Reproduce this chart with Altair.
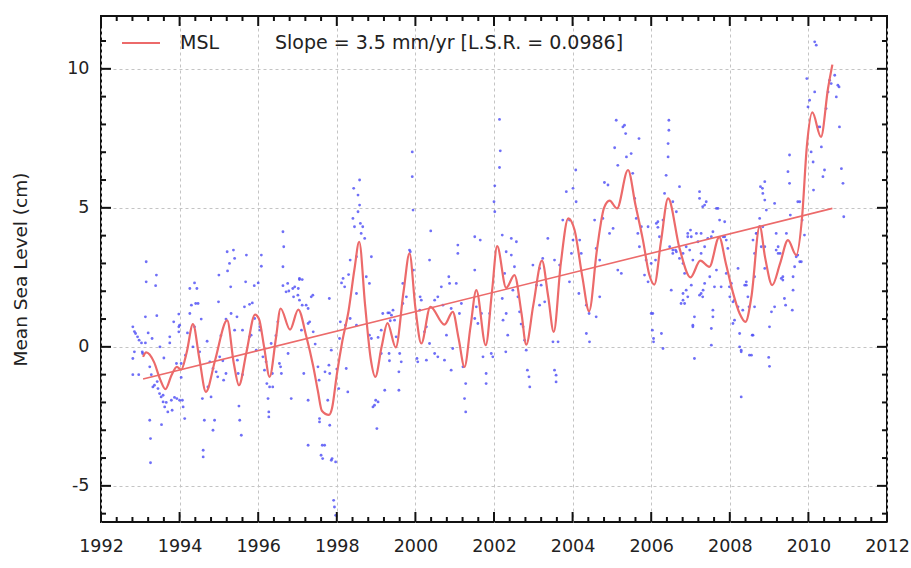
import altair as alt
import pandas as pd

# ---------------- data ----------------
# smoothed MSL curve (year, cm)
msl_years = [1993.07, 1993.15, 1993.35, 1993.50, 1993.64, 1993.80, 1993.93, 1994.04, 1994.18, 1994.34,
             1994.50, 1994.67, 1994.90, 1995.21, 1995.38, 1995.51, 1995.70, 1995.92, 1996.02, 1996.15,
             1996.29, 1996.45, 1996.57, 1996.81, 1997.02, 1997.22, 1997.40, 1997.52, 1997.62, 1997.80,
             1997.88, 1998.00, 1998.14, 1998.30, 1998.45, 1998.57, 1998.72, 1998.86, 1998.98, 1999.14,
             1999.29, 1999.50, 1999.70, 1999.85, 2000.00, 2000.15, 2000.38, 2000.74, 2000.95, 2001.10,
             2001.25, 2001.40, 2001.55, 2001.79, 2001.95, 2002.08, 2002.31, 2002.52, 2002.70, 2002.82,
             2003.00, 2003.22, 2003.38, 2003.52, 2003.70, 2003.89, 2004.05, 2004.25, 2004.42, 2004.62,
             2004.80, 2004.94, 2005.13, 2005.41, 2005.60, 2005.79, 2005.95, 2006.08, 2006.25, 2006.43,
             2006.72, 2007.00, 2007.25, 2007.48, 2007.73, 2007.90, 2008.08, 2008.25, 2008.40, 2008.55,
             2008.76, 2008.90, 2009.08, 2009.28, 2009.48, 2009.69, 2009.84, 2009.96, 2010.10, 2010.32,
             2010.50, 2010.61]
msl_values = [-0.36, -0.20, -0.55, -1.15, -1.52, -1.00, -0.72, -0.82, -0.20, 0.82,
              -0.40, -1.62, -0.50, 0.95, -0.60, -1.38, -0.20, 1.16, 1.00, 0.00,
              -1.08, 0.30, 1.38, 0.62, 1.34, 0.40, -0.70, -1.60, -2.30, -2.45,
              -2.20, -1.00, 0.20, 1.30, 2.80, 3.78, 1.50, -0.40, -1.08, 0.00,
              0.85, -0.02, 2.00, 3.36, 1.40, 0.12, 1.44, 0.80, 1.26, 0.30,
              -0.72, 0.70, 2.04, 0.06, 2.00, 3.62, 2.12, 2.58, 1.20, 0.08,
              1.50, 3.10, 1.80, 0.54, 3.00, 4.62, 4.20, 2.50, 1.28, 3.50,
              5.00, 5.26, 4.98, 6.36, 5.10, 3.84, 2.60, 2.24, 3.80, 5.34,
              3.55, 2.50, 3.10, 2.88, 3.95, 3.00, 1.95, 1.20, 0.90, 1.80,
              4.34, 3.20, 2.22, 3.00, 3.84, 3.30, 4.68, 7.20, 8.43, 7.55,
              9.30, 10.15]

# least-squares trend line
trend_years = [1993.07, 2010.61]
trend_values = [-1.16, 4.98]

# individual measurements (year, cm)
pts_1993_1995 = [
    (1992.81, 0.72), (1992.85, 0.55), (1992.88, 0.48), (1992.93, 0.36), (1992.97, 0.24), (1993.03, 0.14),
    (1993.13, 0.14), (1992.81, -0.42), (1992.85, -0.18), (1993.05, -0.18), (1993.06, -0.24), (1992.81, -1.0),
    (1992.96, -1.0), (1993.24, -0.72), (1993.32, -1.44), (1993.36, -1.38), (1993.45, -1.5), (1993.49, -1.68),
    (1993.53, -1.8), (1993.24, -2.64), (1993.26, -3.3), (1993.26, -4.17), (1993.54, -2.8), (1993.58, -1.98),
    (1993.62, -2.16), (1993.66, -2.0), (1993.70, -2.34), (1993.79, -1.92), (1993.81, -2.28), (1993.87, -1.82),
    (1993.93, -1.86), (1993.15, 3.06), (1993.15, 2.34), (1993.41, 2.58), (1993.39, 2.2), (1993.13, 1.08),
    (1993.42, 1.12), (1993.75, 0.36), (1993.75, 0.14), (1993.98, 1.18), (1994.0, 0.78), (1993.98, 0.72),
    (1993.98, 0.54), (1993.92, -0.6), (1994.04, -0.6), (1994.04, -1.1), (1994.09, -2.16), (1994.13, -2.58),
    (1994.0, -1.92), (1994.07, -1.92), (1994.26, 2.1), (1994.38, 2.3), (1994.44, 2.1), (1994.47, 1.56),
    (1994.41, 1.56), (1994.26, 1.2), (1994.38, 0.72), (1994.34, 0.0), (1994.51, -0.18), (1994.58, -1.86),
    (1994.63, -2.64), (1994.6, -3.72), (1994.6, -3.96), (1994.89, -2.64), (1994.85, -3.0), (1994.77, -0.54),
    (1994.72, -1.44), (1994.85, -0.78), (1994.93, -0.9), (1994.97, -1.08), (1995.02, -0.36), (1995.0, 2.58),
    (1995.21, 3.42), (1995.22, 2.73), (1995.27, 3.0), (1995.3, 2.16), (1995.31, 1.2), (1995.4, 0.6),
    (1995.47, -0.48), (1995.49, -0.96), (1995.18, 1.0), (1995.18, -0.96), (1995.12, -1.2), (1994.99, 1.62),
    (1993.58, -1.74), (1993.43, -1.25), (1993.28, -1.0), (1993.20, 0.5), (1993.30, 0.3), (1993.50, 0.0),
    (1993.60, -0.4), (1993.85, 0.9), (1994.15, -0.3), (1994.20, 0.5), (1994.30, 1.5), (1994.55, 1.0),
    (1994.70, 0.2), (1994.80, -1.8), (1995.05, 0.4), (1995.10, -0.5),
]
pts_1995_1998 = [
    (1995.40, 3.18), (1995.37, 3.48), (1995.70, 3.30), (1995.68, 2.34), (1995.51, -2.13), (1995.53, -2.64),
    (1995.57, -3.18), (1995.46, 1.08), (1995.65, 1.44), (1995.78, 1.53), (1995.85, 1.58), (1995.78, 0.36),
    (1995.82, 0.42), (1995.91, 1.02), (1996.04, 0.72), (1996.05, 0.60), (1995.95, -0.12), (1996.12, -0.36),
    (1996.16, -0.84), (1996.20, -0.54), (1996.22, -1.32), (1996.25, -1.86), (1996.27, -2.34), (1996.27, -2.52),
    (1996.37, -1.44), (1996.54, -0.60), (1996.59, -0.96), (1996.63, 4.14), (1996.65, 3.60), (1996.63, 2.88),
    (1996.71, 1.98), (1996.78, 2.01), (1996.88, 2.10), (1996.90, 1.80), (1997.05, 2.42), (1997.12, 2.42),
    (1997.01, 1.86), (1997.05, 1.68), (1997.12, 1.50), (1997.35, 1.80), (1997.39, 1.86), (1997.22, 1.50),
    (1997.27, 1.38), (1997.31, 0.90), (1997.16, -0.96), (1996.84, -1.86), (1996.76, -0.24), (1996.57, -0.72),
    (1997.27, -1.92), (1997.27, -3.54), (1997.56, -2.58), (1997.63, -3.54), (1997.60, -3.90), (1997.69, -3.54),
    (1997.86, -4.08), (1997.97, -4.14), (1997.92, -5.52), (1997.94, -5.76), (1997.97, -6.06), (1997.77, -1.92),
    (1997.82, -2.82), (1997.86, -0.12), (1997.82, -0.96), (1998.24, -0.78), (1998.28, -1.62), (1998.16, 2.46),
    (1998.20, 2.16), (1998.34, 1.02), (1998.22, 0.78), (1998.50, 0.78), (1998.50, 1.92), (1998.50, 3.24),
    (1998.41, 4.62), (1998.43, 5.70), (1998.54, 5.46), (1998.54, 4.86), (1998.60, 4.44), (1997.81, 1.74),
    (1997.80, -0.66), (1997.27, 0.84), (1997.40, 0.54), (1997.52, -0.72), (1998.07, 0.30), (1998.09, 0.90),
    (1998.34, 3.12), (1998.45, 4.32), (1997.56, -2.70), (1997.64, -4.02), (1997.88, -4.02),
    (1995.60, 0.6), (1995.60, -1.0), (1995.90, 2.2), (1996.00, 2.3), (1996.08, 3.3), (1996.08, 2.9),
    (1996.33, 0.12), (1996.36, -0.96), (1996.29, -1.44), (1996.45, 0.4), (1996.50, 0.9), (1996.63, 2.2),
    (1996.75, 2.28), (1996.93, 2.16), (1997.02, 2.1), (1997.05, 2.46), (1997.10, 0.6), (1997.45, 0.1),
    (1997.55, -1.2), (1997.70, -0.9), (1998.00, -0.8), (1998.05, -1.5), (1998.12, 2.3), (1998.30, 2.6),
]
pts_1998_2002 = [
    (1998.58, 6.00), (1998.58, 5.10), (1998.66, 4.32), (1998.71, 3.90), (1998.62, 4.08), (1998.75, 2.52),
    (1998.83, 2.28), (1998.88, 3.24), (1998.83, 0.42), (1998.88, 0.30), (1999.05, 0.34), (1999.13, 0.60),
    (1999.17, 1.20), (1999.13, -0.24), (1999.22, -1.56), (1999.05, -1.98), (1998.99, -1.92), (1998.96, -2.10),
    (1998.92, -2.16), (1999.02, -2.94), (1999.30, 1.22), (1999.34, 1.22), (1999.36, 0.94), (1999.39, 1.14),
    (1999.43, 1.32), (1999.47, 0.96), (1999.51, 0.36), (1999.33, -0.24), (1999.34, -0.50), (1999.58, -0.90),
    (1999.64, -0.54), (1999.58, -1.56), (1999.60, -0.24), (1999.68, 2.28), (1999.68, 1.56), (1999.77, 1.80),
    (1999.85, 3.48), (1999.87, 3.42), (1999.92, 7.01), (1999.92, 6.12), (1999.94, 4.92), (1999.95, 2.76),
    (2000.04, -0.42), (2000.06, -0.54), (2000.12, 1.80), (2000.15, 1.68), (2000.11, 1.32), (2000.23, 0.54),
    (2000.28, 0.72), (2000.28, -0.48), (2000.36, 0.12), (2000.39, 4.17), (2000.36, 3.12), (2000.49, 1.68),
    (2000.57, 1.80), (2000.66, 2.16), (2000.70, 1.50), (2000.49, -0.24), (2000.57, -0.36), (2000.74, -0.48),
    (2000.79, 0.42), (2000.85, 2.52), (2000.87, 2.28), (2000.91, 1.38), (2000.95, -0.06), (2000.91, -0.84),
    (2001.04, 2.28), (2001.08, 3.66), (2001.08, 3.36), (2001.12, 1.20), (2001.17, 1.56), (2001.21, -0.72),
    (2001.28, -1.32), (2001.25, -1.86), (2001.28, -2.34), (2001.51, 3.96), (2001.51, 2.76), (2001.55, 1.44),
    (2001.51, 1.02), (2001.59, 0.84), (2001.68, 1.20), (2001.65, 3.84), (2001.72, -0.36), (2001.80, -0.96),
    (2001.80, -1.32), (2001.89, 1.20), (2001.93, -0.24), (2002.00, 5.22),
]
pts_2002_2005 = [
    (2002.14, 8.18), (2002.16, 7.05), (2002.14, 6.45), (2002.02, 5.79), (2002.02, 4.86), (2001.97, -0.36),
    (2002.21, 4.02), (2002.31, 3.42), (2002.27, 2.64), (2002.21, 1.74), (2002.31, 1.20), (2002.23, 0.96),
    (2002.35, 0.42), (2002.30, -0.18), (2002.44, 3.90), (2002.57, 3.78), (2002.44, 3.30), (2002.52, 2.88),
    (2002.48, 2.04), (2002.61, 1.80), (2002.65, 1.26), (2002.69, 0.82), (2002.74, 0.72), (2002.78, 0.24),
    (2002.82, -0.12), (2002.85, -0.84), (2002.89, -1.08), (2002.91, -1.44), (2002.99, 2.94), (2003.08, 2.22),
    (2003.16, 2.82), (2003.24, 3.18), (2003.20, 2.22), (2003.29, 1.62), (2003.16, 1.50), (2003.37, 3.90),
    (2003.54, 3.12), (2003.67, 2.94), (2003.50, 0.18), (2003.63, 0.18), (2003.54, -0.84), (2003.58, -1.02),
    (2003.58, -1.26), (2003.75, 4.56), (2003.84, 5.58), (2003.92, 4.56), (2004.01, 5.70), (2004.08, 6.36),
    (2004.09, 5.22), (2004.01, 3.84), (2003.97, 3.36), (2003.92, 2.34), (2004.18, 3.84), (2004.22, 3.36),
    (2004.16, 1.92), (2004.35, 1.50), (2004.35, 0.48), (2004.43, 0.18), (2004.42, 1.20), (2004.56, 4.56),
    (2004.60, 3.54), (2004.69, 3.12), (2004.69, 1.80), (2004.60, 1.08), (2004.81, 5.91), (2004.90, 5.82),
    (2004.77, 4.62), (2004.94, 4.08), (2005.03, 4.26), (2005.07, 7.16), (2005.11, 8.15), (2005.15, 6.53),
    (2005.28, 7.91), (2005.15, 2.76), (2005.24, 2.64),
]
pts_2005_2008 = [
    (2005.32, 7.97), (2005.35, 7.67), (2005.37, 6.83), (2005.49, 6.95), (2005.69, 7.49), (2005.53, 6.24),
    (2005.58, 5.34), (2005.62, 4.62), (2005.66, 4.08), (2005.75, 4.32), (2005.70, 3.60), (2005.87, 3.12),
    (2005.83, 2.58), (2005.92, 2.34), (2005.92, 4.32), (2006.00, 3.00), (2006.00, 1.20), (2006.04, 1.20),
    (2006.03, 0.60), (2006.06, 0.30), (2006.06, 0.18), (2006.30, -0.06), (2006.26, 0.48), (2006.11, 3.12),
    (2006.17, 4.50), (2006.21, 3.96), (2006.30, 4.56), (2006.34, 5.52), (2006.38, 6.17), (2006.43, 6.83),
    (2006.43, 7.31), (2006.45, 7.79), (2006.45, 8.15), (2006.55, 5.22), (2006.64, 4.86), (2006.72, 5.76),
    (2006.55, 3.36), (2006.72, 3.18), (2006.81, 1.92), (2006.85, 1.56), (2006.93, 3.96), (2006.98, 3.48),
    (2007.02, 2.22), (2007.06, 0.72), (2007.10, -0.42), (2007.23, 5.58), (2007.27, 4.08), (2007.36, 3.60),
    (2007.32, 2.04), (2007.23, 1.86), (2007.49, 2.52), (2007.53, 0.66), (2007.57, 1.08), (2007.66, 4.98),
    (2007.74, 4.56), (2007.83, 3.96), (2007.87, 4.50), (2007.95, 3.54), (2008.04, 2.28), (2008.12, 1.68),
    (2008.21, 1.44), (2008.21, 2.82), (2008.08, 0.84), (2008.25, 0.48), (2008.29, -0.12), (2008.29, -1.80),
    (2008.42, 2.22), (2008.49, 1.44), (2008.57, 0.42),
    (2006.13, 4.44), (2006.17, 4.30), (2006.47, 3.60), (2006.51, 2.04), (2006.55, 3.48), (2006.62, 3.48),
    (2006.64, 3.42), (2006.81, 3.36), (2006.81, 3.00), (2006.85, 2.64), (2006.89, 3.60), (2006.93, 4.08),
    (2007.00, 4.20), (2007.02, 3.96), (2007.06, 3.12), (2007.23, 5.34), (2007.31, 5.04), (2007.36, 5.10),
    (2007.40, 5.22), (2007.15, 4.08), (2007.19, 3.78), (2007.27, 3.36), (2007.44, 3.90), (2007.53, 3.96),
    (2007.57, 4.14), (2007.70, 4.98), (2007.87, 3.96), (2007.91, 3.84), (2006.89, 2.04), (2006.93, 1.80),
    (2006.81, 1.68), (2006.76, 1.56), (2007.06, 0.78), (2007.10, 1.08), (2007.53, 0.06), (2007.57, 1.32),
    (2007.27, 1.92), (2007.31, 1.80), (2007.36, 2.28), (2007.61, 2.16), (2007.66, 2.76), (2007.78, 2.16),
    (2007.91, 2.64), (2007.99, 2.16), (2008.00, 1.80), (2008.08, 1.62), (2008.12, 0.96), (2008.25, 0.00),
    (2008.29, -0.18), (2008.38, 2.22), (2008.42, 2.34), (2008.46, 1.80), (2008.33, 1.32),
]
pts_2008_2011 = [
    (2008.50, -0.30), (2008.59, 0.42), (2008.63, 1.44), (2008.63, 2.52), (2008.63, 3.36), (2008.69, 4.08),
    (2008.76, 4.62), (2008.78, 5.76), (2008.83, 5.70), (2008.89, 5.94), (2008.93, 4.92), (2008.84, 4.32),
    (2008.89, 3.60), (2008.89, 2.82), (2009.01, 0.72), (2008.99, -0.38), (2009.01, -0.70), (2009.06, 1.26),
    (2009.14, 1.44), (2009.18, 4.08), (2009.23, 3.60), (2009.28, 3.36), (2009.31, 2.46), (2009.35, 2.52),
    (2009.39, 1.74), (2009.42, 1.50), (2009.44, 4.08), (2009.48, 6.30), (2009.52, 5.88), (2009.54, 4.74),
    (2009.59, 1.32), (2009.61, 2.04), (2009.65, 2.88), (2009.69, 3.24), (2009.73, 5.22), (2009.78, 3.06),
    (2009.82, 3.06), (2009.84, 4.56), (2009.90, 4.02), (2009.96, 9.65), (2009.99, 8.63), (2010.03, 8.87),
    (2010.07, 7.01), (2010.12, 6.65), (2010.13, 5.64), (2010.16, 9.17), (2010.16, 10.97), (2010.20, 10.85),
    (2010.24, 7.91), (2010.29, 7.91), (2010.33, 7.19), (2010.37, 6.12), (2010.41, 6.36), (2010.45, 8.57),
    (2010.50, 9.17), (2010.54, 9.59), (2010.58, 9.47), (2010.67, 9.77), (2010.71, 8.99), (2010.75, 9.41),
    (2010.78, 9.35), (2010.79, 7.91), (2010.84, 6.41), (2010.88, 5.88), (2010.90, 4.68),
    (2008.55, -0.30), (2008.84, 5.52), (2008.89, 5.28), (2008.76, 4.32), (2008.67, 4.08), (2008.80, 3.60),
    (2008.59, 3.84), (2009.14, 5.16), (2009.18, 3.48), (2009.23, 3.36), (2009.35, 2.40), (2009.52, 6.90),
    (2009.61, 2.52), (2009.73, 3.30), (2009.78, 5.22),
]

x_major = [1992, 1994, 1996, 1998, 2000, 2002, 2004, 2006, 2008, 2010, 2012]
y_major = [-5, 0, 5, 10]
y_minor = [-6, -4, -3, -2, -1, 1, 2, 3, 4, 6, 7, 8, 9, 11]
x_minor = [round(1992 + 0.4 * i, 1) for i in range(1, 50) if i % 5 != 0]

legend_label = "MSL"
slope_label = "Slope = 3.5 mm/yr [L.S.R. = 0.0986]"

# ---------------- chart ----------------
W, H = 786, 506
FONT = "DejaVu Sans"
RED = "#ec6a6a"
BLUE = "#4b4bf5"
TXT = "#222222"

pts = pts_1993_1995 + pts_1995_1998 + pts_1998_2002 + pts_2002_2005 + pts_2005_2008 + pts_2008_2011
df_pts = pd.DataFrame(pts, columns=["year", "value"])
df_msl = pd.DataFrame({"year": msl_years, "value": msl_values})
df_trend = pd.DataFrame({"year": trend_years, "value": trend_values})

xs = alt.Scale(domain=[1992, 2012], nice=False, zero=False)
ys = alt.Scale(domain=[-6.3, 11.9], nice=False, zero=False)

xaxis = alt.Axis(values=x_major, format="d", title=None, ticks=False, domain=False,
                 labelFontSize=17.5, labelFont=FONT, labelColor=TXT, labelPadding=15,
                 grid=True, gridDash=[3, 3], gridColor="#c4c4c4", gridWidth=1, labelFlush=False)
yaxis = alt.Axis(values=y_major, title="Mean Sea Level (cm)", ticks=False, domain=False,
                 labelExpr="'' + datum.value",
                 labelFontSize=17.5, labelFont=FONT, labelColor=TXT, labelPadding=12,
                 titleFont=FONT, titleFontSize=18.5, titleFontWeight="normal", titleColor=TXT,
                 titlePadding=36, grid=True, gridDash=[3, 3], gridColor="#c4c4c4", gridWidth=1)

X = alt.X("year:Q", scale=xs, axis=xaxis)
Y = alt.Y("value:Q", scale=ys, axis=yaxis)

scatter = alt.Chart(df_pts).mark_circle(size=8, color=BLUE, opacity=0.8).encode(x=X, y=Y)
curve = alt.Chart(df_msl).mark_line(color=RED, strokeWidth=2.2, interpolate="monotone").encode(x=X, y=Y)
trend = alt.Chart(df_trend).mark_line(color=RED, strokeWidth=1.6).encode(x=X, y=Y)

df_xmaj = pd.DataFrame({"year": x_major})
df_xmin = pd.DataFrame({"year": x_minor})
df_ymaj = pd.DataFrame({"value": y_major})
df_ymin = pd.DataFrame({"value": y_minor})

tick_style = dict(color="#111111", strokeWidth=2)

ticks = [
    alt.Chart(df_xmaj).mark_rule(**tick_style).encode(x=X, y=alt.value(H), y2=alt.value(H - 10)),
    alt.Chart(df_xmaj).mark_rule(**tick_style).encode(x=X, y=alt.value(0), y2=alt.value(10)),
    alt.Chart(df_xmin).mark_rule(**tick_style).encode(x=X, y=alt.value(H), y2=alt.value(H - 5)),
    alt.Chart(df_xmin).mark_rule(**tick_style).encode(x=X, y=alt.value(0), y2=alt.value(5)),
    alt.Chart(df_ymaj).mark_rule(**tick_style).encode(y=Y, x=alt.value(0), x2=alt.value(10)),
    alt.Chart(df_ymaj).mark_rule(**tick_style).encode(y=Y, x=alt.value(W), x2=alt.value(W - 10)),
    alt.Chart(df_ymin).mark_rule(**tick_style).encode(y=Y, x=alt.value(0), x2=alt.value(5)),
    alt.Chart(df_ymin).mark_rule(**tick_style).encode(y=Y, x=alt.value(W), x2=alt.value(W - 5)),
]

leg_line = alt.Chart(pd.DataFrame({"label": [legend_label]})).mark_rule(color=RED, strokeWidth=2).encode(
    x=alt.value(21), x2=alt.value(59), y=alt.value(27))
leg_text = alt.Chart(pd.DataFrame({"label": [legend_label]})).mark_text(
    align="left", baseline="middle", font=FONT, fontSize=19, color=TXT).encode(
    x=alt.value(79), y=alt.value(27), text="label:N")
slope_text = alt.Chart(pd.DataFrame({"label": [slope_label]})).mark_text(
    align="left", baseline="middle", font=FONT, fontSize=19, color=TXT).encode(
    x=alt.value(174), y=alt.value(27), text="label:N")

chart = alt.layer(scatter, trend, curve, *ticks, leg_line, leg_text, slope_text).properties(
    width=W, height=H,
    autosize=alt.AutoSizeParams(type="none"),
    padding={"left": 101, "top": 16, "right": 24, "bottom": 46},
    background="white",
).configure_view(stroke="#111111", strokeWidth=2)

chart.save("out.html", embed_options={"renderer": "svg", "actions": False})
